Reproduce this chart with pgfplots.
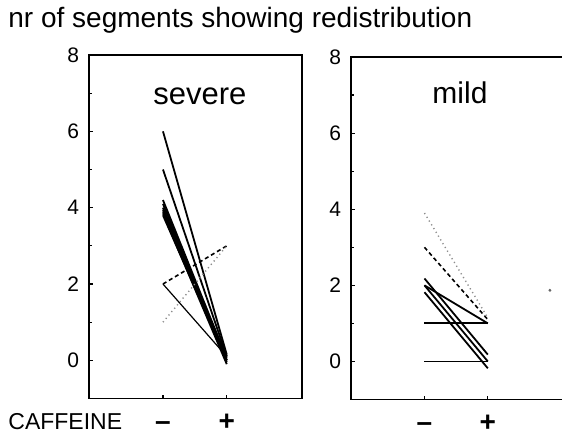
\documentclass[border=0pt]{standalone}
\usepackage{fontspec}
\setmainfont{Liberation Sans}
\usepackage{pgfplots}
\pgfplotsset{compat=1.18}

\pgfplotsset{
  panel/.style={
    scale only axis, anchor=south west,
    width=106.5pt,
    xmin=-1.16, xmax=2.18, ymin=-1, ymax=8,
    xtick={0,1}, xticklabels={\textbf{–},\textbf{+}},
    ytick={0,2,4,6,8}, minor ytick={1,3,5,7},
    tick align=inside, xtick pos=bottom, ytick pos=left,
    major tick length=2pt, minor tick length=1.5pt,
    tick style={black, line width=0.6pt},
    axis line style={line width=0.8pt},
    ticklabel style={font=\fontsize{10.5}{12}\selectfont},
    yticklabel style={xshift=-1.5pt},
    xticklabel style={font=\fontsize{14}{16}\selectfont\bfseries, anchor=base, inner sep=0pt, yshift=-16pt},
    /pgf/number format/assume math mode=true,
  },
  pair/.style={black, line width=0.9pt},
  dashpair/.style={black, line width=0.8pt, dash pattern=on 2pt off 1.5pt},
  dotpair/.style={black!45, line width=0.7pt, dash pattern=on 0.6pt off 1.6pt},
}

\begin{document}
\begin{tikzpicture}
\path[use as bounding box] (0pt,0pt) rectangle (281pt,218pt);

% severe
\begin{axis}[panel, at={(44.5pt,18.75pt)}, height=171.75pt]
  \addplot[pair] coordinates {(0,6.0) (1,0.15)};
  \addplot[pair] coordinates {(0,5.0) (1,0.10)};
  \addplot[pair] coordinates {(0,4.2) (1,0.05)};
  \addplot[pair] coordinates {(0,4.1) (1,0.00)};
  \addplot[pair] coordinates {(0,4.0) (1,0.00)};
  \addplot[pair] coordinates {(0,3.95) (1,-0.05)};
  \addplot[pair] coordinates {(0,3.9) (1,0.10)};
  \addplot[pair] coordinates {(0,3.85) (1,-0.10)};
  \addplot[pair] coordinates {(0,3.8) (1,0.00)};
  \addplot[pair, line width=0.6pt] coordinates {(0,2.0) (1,0.10)};
  \addplot[dashpair] coordinates {(0,2.0) (1,3.0)};
  \addplot[dotpair] coordinates {(0,1.0) (1,3.0)};
  \node[anchor=base, font=\fontsize{15.5}{17}\selectfont] at (axis cs:0.58,6.7) {severe};
\end{axis}

% mild
\begin{axis}[panel, at={(175.5pt,18.25pt)}, height=171.25pt, width=108pt, xmax=2.25]
  \addplot[pair] coordinates {(0,2.18) (1,0.18)};
  \addplot[pair] coordinates {(0,2.0) (1,0.0)};
  \addplot[pair] coordinates {(0,1.82) (1,-0.18)};
  \addplot[pair] coordinates {(0,2.0) (1,1.0)};
  \addplot[pair] coordinates {(0,1.0) (1,1.0)};
  \addplot[pair] coordinates {(0,0.0) (1,0.0)};
  \addplot[dashpair] coordinates {(0,3.0) (1,1.1)};
  \addplot[dotpair] coordinates {(0,3.9) (1,1.15)};
  \addplot[only marks, mark=*, mark size=0.5pt, black!60] coordinates {(1.98,1.87)};
  \node[anchor=base, font=\fontsize{15}{17}\selectfont] at (axis cs:0.56,6.77) {mild};
\end{axis}

\node[anchor=west, font=\fontsize{14}{16}\selectfont, inner sep=0pt] at (4pt,208pt) {nr of segments showing redistribution};
\node[anchor=west, font=\fontsize{11.5}{13}\selectfont, inner sep=0pt] at (4pt,7pt) {CAFFEINE};
\end{tikzpicture}
\end{document}
